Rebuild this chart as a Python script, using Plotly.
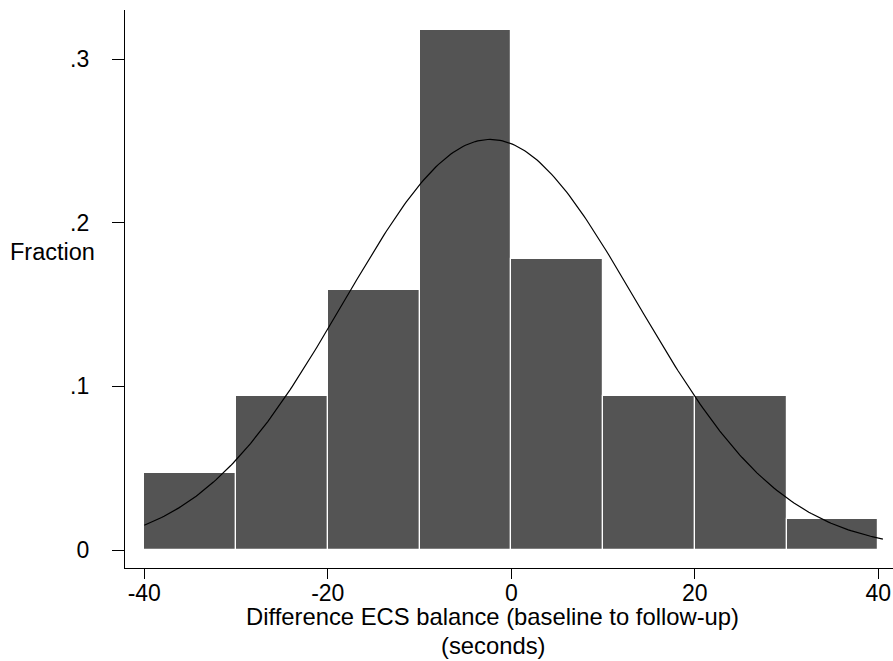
import numpy as np
import plotly.graph_objects as go

# Histogram of change in ECS balance time (seconds), bins of width 10
bin_lefts = [-40, -30, -20, -10, 0, 10, 20, 30]
bin_width = 10
fractions = [0.047, 0.094, 0.159, 0.318, 0.178, 0.094, 0.094, 0.019]

# Fitted normal overlay parameters (seconds)
fit_mean = -2.3
fit_sd = 15.9

x_ticks = [-40, -20, 0, 20, 40]
y_ticks = [0, 0.1, 0.2, 0.3]
y_tick_text = ["0", ".1", ".2", ".3"]

x_title_lines = ["Difference ECS balance (baseline to follow-up)", "(seconds)"]

FONT = "Liberation Sans, Arial, Helvetica, sans-serif"

bin_centers = [b + bin_width / 2 for b in bin_lefts]

# normal density scaled to fraction-per-bin
xs = np.linspace(-40, 40.5, 300)
ys = bin_width * np.exp(-0.5 * ((xs - fit_mean) / fit_sd) ** 2) / (fit_sd * np.sqrt(2 * np.pi))

fig = go.Figure()
fig.add_trace(go.Bar(
    x=bin_centers, y=fractions, width=bin_width,
    marker=dict(color="#545454", line=dict(color="white", width=1.2)),
    showlegend=False,
))
fig.add_trace(go.Scatter(
    x=xs, y=ys, mode="lines",
    line=dict(color="black", width=1.2),
    showlegend=False,
))

fig.update_layout(
    width=893, height=661,
    margin=dict(l=125, r=0, t=10, b=93),
    paper_bgcolor="white", plot_bgcolor="white",
    font=dict(family=FONT, size=23, color="black"),
    bargap=0,
)
fig.update_xaxes(
    range=[-42.1, 41.6],
    tickvals=x_ticks, ticktext=[str(v) for v in x_ticks],
    showline=True, linecolor="black", linewidth=1.2,
    ticks="outside", ticklen=10, tickcolor="black", tickwidth=1,
    ticklabelstandoff=-6,
    showgrid=False, zeroline=False,
)
fig.update_yaxes(
    range=[-0.011, 0.330],
    tickvals=y_ticks, ticktext=y_tick_text,
    showline=True, linecolor="black", linewidth=1.2,
    ticks="outside", ticklen=12, tickcolor="black", tickwidth=1,
    ticklabelstandoff=18,
    showgrid=False, zeroline=False,
)

fig.add_annotation(
    text="Fraction", xref="paper", yref="paper",
    x=0, y=0.566, xanchor="right", yanchor="middle",
    xshift=-28, showarrow=False,
    font=dict(family=FONT, size=23.5, color="black"),
)
# two-line x-axis title, each line placed below the plot area
for line_text, offset in zip(x_title_lines, [-48, -77]):
    fig.add_annotation(
        text=line_text,
        xref="paper", yref="paper", x=0.479, y=0,
        xanchor="center", yanchor="middle", yshift=offset,
        showarrow=False, borderpad=0,
        font=dict(family=FONT, size=23.8, color="black"),
    )

fig.write_html("out.html")
